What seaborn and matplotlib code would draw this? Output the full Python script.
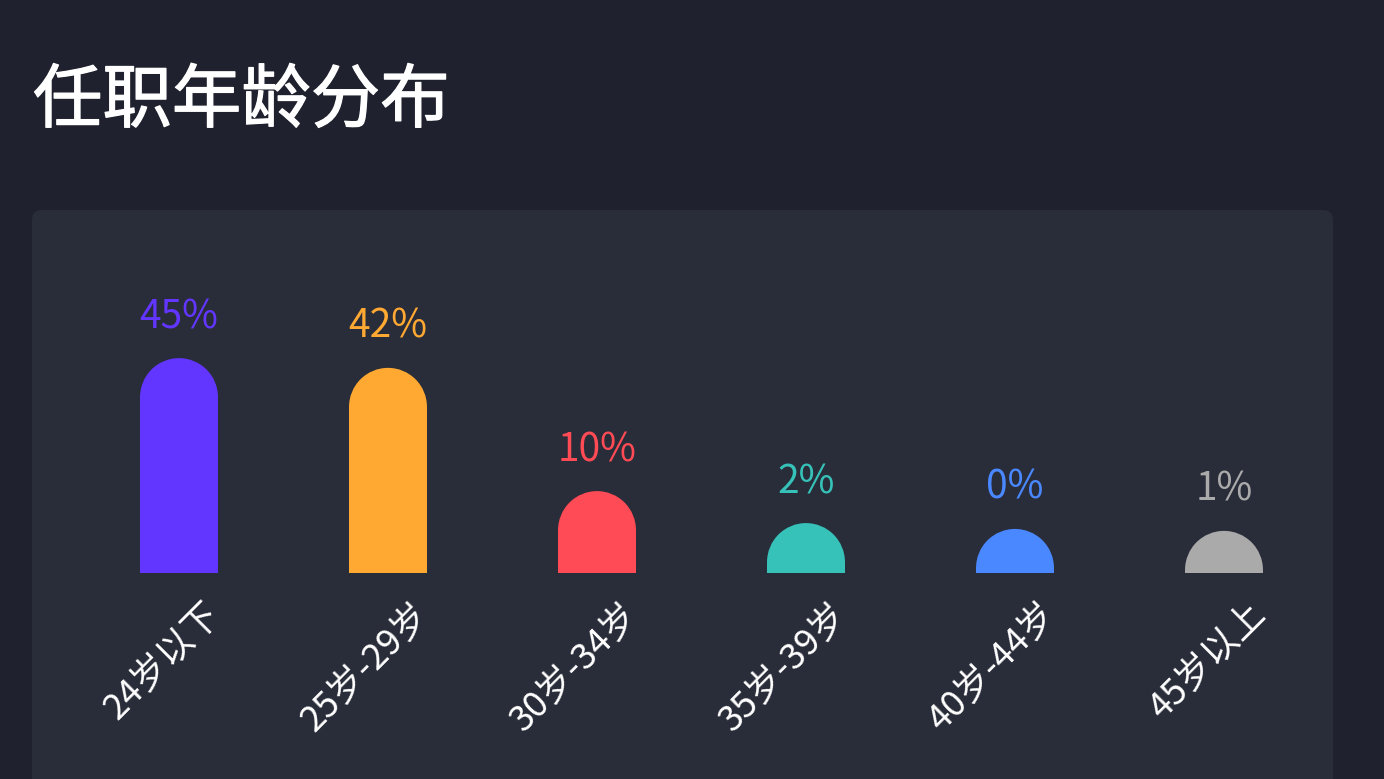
import matplotlib
matplotlib.use('Agg')
import matplotlib.pyplot as plt
import matplotlib.transforms as mtransforms
import matplotlib.patheffects as pe
from matplotlib.patches import Ellipse, FancyBboxPatch
import seaborn as sns
import pandas as pd

# data
age_groups = ['24岁以下', '25岁-29岁', '30岁-34岁', '35岁-39岁', '40岁-44岁', '45岁以上']
bar_values = [45.1, 42.6, 11.0, 2.8, 1.3, 0.8]
value_labels = ['45%', '42%', '10%', '2%', '0%', '1%']
bar_colors = ['#6236FF', '#FFA933', '#FF4B55', '#36C2B8', '#4A88FF', '#AAAAAA']

BG = '#1F222E'
PANEL = '#292C39'
W, H = 1384, 779
PX_PER_UNIT = 3.9
CAP_PX = 39

sns.set_theme(style='dark', rc={'figure.facecolor': BG, 'axes.facecolor': 'none'})
plt.rcParams['font.family'] = ['Noto Sans CJK SC', 'DejaVu Sans']

df = pd.DataFrame({'group': age_groups, 'share': bar_values})

fig = plt.figure(figsize=(W / 100, H / 100), dpi=100)

# rounded card behind the chart (pixel coords)
card = FancyBboxPatch((32, -30), 1301, H - 210 + 30,
                      boxstyle='round,pad=0,rounding_size=10',
                      transform=mtransforms.IdentityTransform(),
                      facecolor=PANEL, edgecolor='none', zorder=0)
fig.add_artist(card)

title = fig.text(33 / W, 1 - 102 / H, '任职年龄分布', color='white', fontsize=50,
                 ha='left', va='center')
# a thin stroke gives the medium weight seen in the reference
title.set_path_effects([pe.withStroke(linewidth=0.9, foreground='white')])

ax_h = 323
ax = fig.add_axes([74.5 / W, 206 / H, 1254 / W, ax_h / H])
sns.barplot(data=df, x='group', y='share', hue='group', palette=bar_colors,
            saturation=1, width=0.373, legend=False, linewidth=0, ax=ax, zorder=2)
ax.set_xlim(-0.5, 5.5)
ax.set_ylim(0, ax_h / PX_PER_UNIT)

# round the bar tops with a half-ellipse cap (circle in pixels)
cap_h = CAP_PX / PX_PER_UNIT
for i, p in enumerate(ax.patches[:len(age_groups)]):
    cx = p.get_x() + p.get_width() / 2
    top = p.get_height()
    ax.add_patch(Ellipse((cx, top), p.get_width(), 2 * cap_h,
                         facecolor=bar_colors[i], edgecolor='none', zorder=2))
    ax.annotate(value_labels[i], (cx, top), xytext=(0, 69),
                textcoords='offset pixels', ha='center', va='baseline',
                color=bar_colors[i], fontsize=28)

ax.set_xlabel('')
ax.set_ylabel('')
ax.set_yticks([])
ax.set_xticks(range(len(age_groups)))
ax.set_xticklabels(age_groups, rotation=45, ha='right', va='center',
                   rotation_mode='anchor', color='white', fontsize=26)
ax.tick_params(axis='x', length=0, pad=0)
shift = mtransforms.ScaledTranslation(36 / 100, -36 / 100, fig.dpi_scale_trans)
for lbl in ax.get_xticklabels():
    lbl.set_transform(lbl.get_transform() + shift)
for s in ax.spines.values():
    s.set_visible(False)

fig.savefig('out.png', dpi=100, facecolor=BG)
plt.close(fig)
